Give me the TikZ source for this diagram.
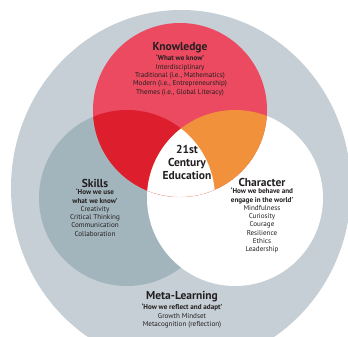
\documentclass[tikz,border=0pt]{standalone}
\usepackage{fontspec}
\setmainfont{PT Sans}
\definecolor{Meta}{RGB}{197,207,213}
\definecolor{Skill}{RGB}{163,181,188}
\definecolor{Know}{RGB}{235,74,96}
\definecolor{KnowSkill}{RGB}{220,30,45}
\definecolor{KnowChar}{RGB}{242,145,60}
\definecolor{Ink}{RGB}{35,31,32}
\usetikzlibrary{positioning}

\tikzset{
  headline/.style={font=\fontsize{11.5}{13}\selectfont\bfseries,text=Ink,inner sep=0pt},
  bodytext/.style={font=\fontsize{7.1}{8.3}\selectfont,text=Ink,align=center,inner sep=0pt},
  hub/.style={font=\fontsize{11.5}{13}\selectfont\bfseries,text=Ink,align=center,inner sep=0pt}
}

\begin{document}
\begin{tikzpicture}[x=1pt,y=1pt]
  \useasboundingbox (0,0) rectangle (348,337);
  % outer ring and the three sets
  \fill[Meta] (181,149) ellipse [x radius=170,y radius=178];
  \fill[Skill] (127,139) circle [radius=88];
  \fill[white] (235,139) circle [radius=88];
  \fill[Know] (180,227) circle [radius=87];
  \begin{scope}
    \clip (180,227) circle [radius=87];
    \fill[KnowSkill] (127,139) circle [radius=88];
    \fill[KnowChar] (235,139) circle [radius=88];
    \clip (127,139) circle [radius=88];
    \fill[white] (235,139) circle [radius=88];
  \end{scope}
  \begin{scope}
    \clip (127,139) circle [radius=88];
    \clip (235,139) circle [radius=88];
    \draw[Know!25,densely dashed,line width=0.4pt] (180,227) circle [radius=87];
  \end{scope}

  % labels
  \node[headline] (kn-title) at (180,289) {Knowledge};
  \node[bodytext,below=1.5pt of kn-title] (kn-body)
    {\textbf{‘What we know’}\\Interdisciplinary\\Traditional (i.e., Mathematics)\\
     Modern (i.e., Entrepreneurship)\\Themes (i.e., Global Literacy)};

  \node[hub] (hub) at (187,175) {21st\\Century\\Education};

  \node[headline] (sk-title) at (95,154) {Skills};
  \node[bodytext,below=1.5pt of sk-title] (sk-body)
    {\textbf{‘How we use}\\\textbf{what we know’}\\Creativity\\Critical Thinking\\
     Communication\\Collaboration};

  \node[headline] (ch-title) at (262,155) {Character};
  \node[bodytext,below=1.5pt of ch-title] (ch-body)
    {\textbf{‘How we behave and}\\\textbf{engage in the world’}\\Mindfulness\\Curiosity\\
     Courage\\Resilience\\Ethics\\Leadership};

  \node[headline] (ml-title) at (182,40) {Meta-Learning};
  \node[bodytext,below=1.5pt of ml-title] (ml-body)
    {\textbf{‘How we reflect and adapt’}\\Growth Mindset\\Metacognition (reflection)};
\end{tikzpicture}
\end{document}
